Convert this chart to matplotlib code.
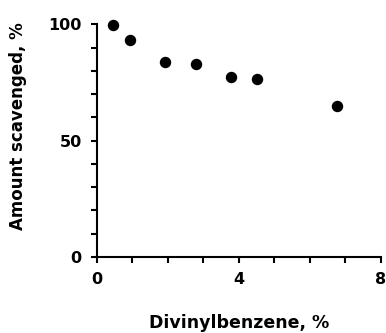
import matplotlib
matplotlib.use('Agg')
import matplotlib.pyplot as plt
from matplotlib.ticker import MultipleLocator

plt.rcParams['font.family'] = ['DejaVu Sans']
plt.rcParams['font.weight'] = 'bold'

dvb = [0.46, 0.93, 1.92, 2.78, 3.78, 4.5, 6.76]
scavenged = [99.7, 93.4, 83.8, 83.1, 77.4, 76.5, 65.1]

fig = plt.figure(figsize=(3.86, 3.33), dpi=100)
ax = fig.add_axes([0.2513, 0.2282, 0.987 - 0.2513, 0.927 - 0.2282])

ax.scatter(dvb, scavenged, s=52, color='black', zorder=3, clip_on=False)

ax.set_xlim(0, 8)
ax.set_ylim(0, 100)
ax.set_xticks([0, 4, 8])
ax.set_yticks([0, 50, 100])
ax.xaxis.set_minor_locator(MultipleLocator(1))
ax.yaxis.set_minor_locator(MultipleLocator(10))

for side in ['top', 'right']:
    ax.spines[side].set_visible(False)
for side in ['left', 'bottom']:
    ax.spines[side].set_linewidth(1.5)

ax.tick_params(which='both', direction='out', width=1.5, length=4.5, labelsize=11.5)
ax.tick_params(axis='y', pad=6.5)
ax.tick_params(axis='x', pad=6)

ax.set_xlabel('Divinylbenzene, %', fontsize=12.5, fontweight='bold', labelpad=20)
ax.set_ylabel('Amount scavenged, %', fontsize=12, fontweight='bold')
ax.yaxis.set_label_coords(-0.245, 0.562)

fig.savefig('out.png', dpi=100)
